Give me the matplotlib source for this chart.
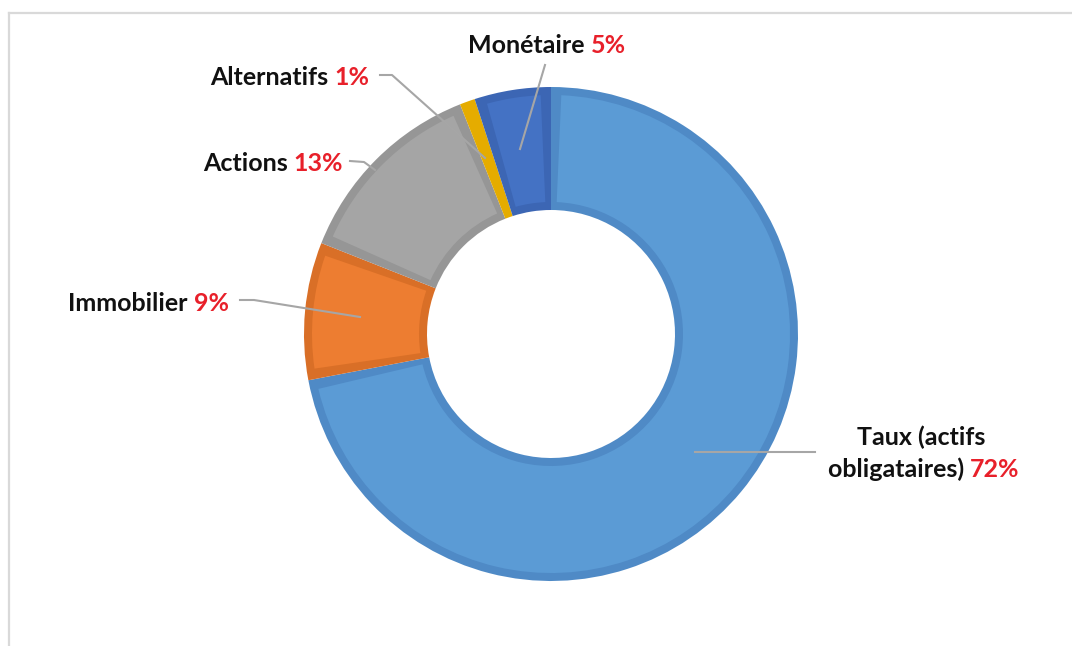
import numpy as np
import matplotlib
matplotlib.use('Agg')
import matplotlib.pyplot as plt
from matplotlib.lines import Line2D
from matplotlib.patches import Wedge

# chart data (clockwise from 12 o'clock)
categories = ['Taux (actifs\nobligataires)', 'Immobilier', 'Actions', 'Alternatifs', 'Monétaire']
shares = [72, 9, 13, 1, 5]
fill_colors = ['#5B9BD5', '#ED7D31', '#A5A5A5', '#FFC000', '#4472C4']
edge_colors = ['#4F8AC6', '#D96F27', '#969696', '#E5AC00', '#3C66B4']

W, H = 1072, 646
plt.rcParams['font.family'] = ['Lato', 'DejaVu Sans']

fig = plt.figure(figsize=(W / 100, H / 100), dpi=100)
ax = fig.add_axes([0, 0, 1, 1])


def py(y):
    # pixel row (from top) -> data y
    return H - y


cx, cy = 551, py(334)
inset = 8  # width of the darker border inside each slice, px

# dark slices first, then a lighter inset slice on top (Excel-like border)
wedges, _ = ax.pie(shares, radius=247, center=(cx, cy), startangle=90,
                   counterclock=False, colors=edge_colors,
                   wedgeprops=dict(width=123, linewidth=0))
for w, fc in zip(wedges, fill_colors):
    r_mid = w.r - w.width / 2
    dth = np.degrees(inset / r_mid)
    t1, t2 = w.theta1 + dth, w.theta2 - dth
    if t2 - t1 > 1:
        ax.add_patch(Wedge(w.center, w.r - inset, t1, t2, width=w.width - 2 * inset,
                           facecolor=fc, linewidth=0))

ax.set_xlim(0, W)
ax.set_ylim(0, H)
ax.set_aspect('equal')
ax.axis('off')

# chart area border
fig.add_artist(Line2D([9 / W, 1], [1 - 13 / H, 1 - 13 / H], color='#D9D9D9', lw=1.6))
fig.add_artist(Line2D([9 / W, 9 / W], [0, 1 - 13 / H], color='#D9D9D9', lw=1.6))

# labels: (left x, baseline y) in pixels
label_pos = {
    'Monétaire': (468, 53),
    'Alternatifs': (210, 85),
    'Actions': (203, 171),
    'Immobilier': (68, 311),
}
leaders = {
    'Monétaire': [(545, 65), (520, 149)],
    'Alternatifs': [(380, 75), (392, 75), (485, 158)],
    'Actions': [(350, 161), (364, 162), (375, 170)],
    'Immobilier': [(240, 300), (254, 300), (360, 317)],
    'Taux (actifs\nobligataires)': [(695, 452), (815, 452)],
}

fs = 18
for name, val in zip(categories, shares):
    pts = leaders[name]
    ax.plot([p[0] for p in pts], [py(p[1]) for p in pts], color='#A6A6A6', lw=1.5)
    if name in label_pos:
        x, y = label_pos[name]
        t = ax.text(x, py(y), name + ' ', fontsize=fs, fontweight='bold',
                    color='#111111', va='baseline', ha='left')
    else:
        first, second = name.split('\n')
        ax.text(921, py(445), first, fontsize=fs, fontweight='bold',
                color='#111111', va='baseline', ha='center')
        t = ax.text(828, py(477), second + ' ', fontsize=fs, fontweight='bold',
                    color='#111111', va='baseline', ha='left')
    ax.annotate('%d%%' % val, xy=(1, 0), xycoords=t, fontsize=fs,
                fontweight='bold', color='#E8202A', va='bottom', ha='left')

fig.savefig('out.png', dpi=100)
